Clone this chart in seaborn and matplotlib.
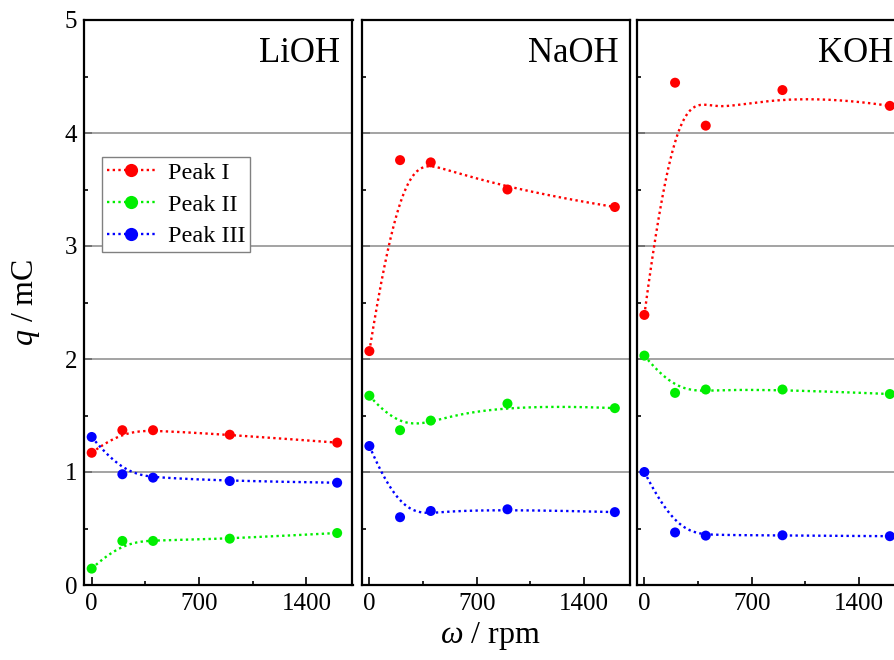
import numpy as np
import pandas as pd
import matplotlib
matplotlib.use("Agg")
import matplotlib.pyplot as plt
from matplotlib.lines import Line2D
from matplotlib.ticker import MultipleLocator
import seaborn as sns

# ---------------- data ----------------
rpm = [0, 200, 400, 900, 1600]
electrolytes = ["LiOH", "NaOH", "KOH"]
series_names = ["Peak I", "Peak II", "Peak III"]

lioh_peak1 = [1.17, 1.37, 1.37, 1.33, 1.26]
lioh_peak2 = [0.145, 0.39, 0.39, 0.41, 0.46]
lioh_peak3 = [1.31, 0.98, 0.95, 0.92, 0.905]

naoh_peak1 = [2.07, 3.76, 3.74, 3.50, 3.345]
naoh_peak2 = [1.675, 1.37, 1.455, 1.605, 1.565]
naoh_peak3 = [1.23, 0.60, 0.655, 0.67, 0.645]

koh_peak1 = [2.39, 4.445, 4.065, 4.38, 4.24]
koh_peak2 = [2.03, 1.70, 1.73, 1.73, 1.69]
koh_peak3 = [1.00, 0.465, 0.437, 0.44, 0.432]

x_ticks = [0, 700, 1400]
y_ticks = [0, 1, 2, 3, 4, 5]
colors = ["#ff0000", "#00ee00", "#0000ff"]

panels = {
    "LiOH": [lioh_peak1, lioh_peak2, lioh_peak3],
    "NaOH": [naoh_peak1, naoh_peak2, naoh_peak3],
    "KOH": [koh_peak1, koh_peak2, koh_peak3],
}


def bspline(xs, ys, n=300, k=3):
    """Clamped uniform B-spline using the data points as control points."""
    P = np.column_stack([xs, ys]).astype(float)
    m = len(P)
    nseg = m - k
    knots = np.concatenate([np.zeros(k + 1), np.arange(1, nseg), np.full(k + 1, nseg)])
    u = np.linspace(0, nseg, n)
    u[-1] = nseg - 1e-9

    def N(i, p, uu):
        if p == 0:
            return ((knots[i] <= uu) & (uu < knots[i + 1])).astype(float)
        a = 0.0
        d1 = knots[i + p] - knots[i]
        if d1 > 0:
            a = (uu - knots[i]) / d1 * N(i, p - 1, uu)
        b = 0.0
        d2 = knots[i + p + 1] - knots[i + 1]
        if d2 > 0:
            b = (knots[i + p + 1] - uu) / d2 * N(i + 1, p - 1, uu)
        return a + b

    B = np.column_stack([N(i, k, u) for i in range(m)])
    C = B @ P
    return C[:, 0], C[:, 1]


sns.set_style("ticks")
plt.rcParams["font.family"] = ["Liberation Serif", "DejaVu Serif"]
plt.rcParams["mathtext.fontset"] = "custom"
plt.rcParams["mathtext.rm"] = "Liberation Serif"
plt.rcParams["mathtext.it"] = "Liberation Serif:italic"
for key in ["text.color", "axes.labelcolor", "xtick.color", "ytick.color",
            "axes.edgecolor"]:
    plt.rcParams[key] = "black"

W, H = 894, 660
fig = plt.figure(figsize=(W / 100, H / 100), dpi=100)

lefts = [84, 361.7, 636.7]
pw = 268.5
bottom_px, top_px = 585, 20

dot_style = (0, (1.0, 1.4))
axes = []
for j, (name, left) in enumerate(zip(electrolytes, lefts)):
    ax = fig.add_axes([left / W, (H - bottom_px) / H, pw / W, (bottom_px - top_px) / H])
    axes.append(ax)
    for ys, c in zip(panels[name], colors):
        cx, cy = bspline(rpm, ys)
        sns.lineplot(x=cx, y=cy, ax=ax, color=c, linewidth=1.7,
                     linestyle=dot_style, sort=False, estimator=None, zorder=3)
        sns.scatterplot(x=rpm, y=ys, ax=ax, color=c, s=52, edgecolor="none",
                        linewidth=0, zorder=4)
    ax.set_xlim(-50, 1700)
    ax.set_ylim(0, 5)
    ax.set_xticks(x_ticks)
    ax.xaxis.set_minor_locator(MultipleLocator(350))
    ax.set_yticks(y_ticks)
    ax.yaxis.set_minor_locator(MultipleLocator(0.5))
    for yv in y_ticks[1:-1]:
        ax.axhline(yv, color="#8a8a8a", linewidth=1.1, zorder=1)
    for sp in ax.spines.values():
        sp.set_linewidth(1.6)
        sp.set_color("black")
        sp.set_zorder(5)
    ax.tick_params(axis="both", which="major", direction="in", length=6,
                   width=1.2, labelsize=18, color="black", labelcolor="black")
    ax.tick_params(axis="both", which="minor", direction="in", length=3.2,
                   width=1.2, color="black")
    ax.tick_params(axis="x", which="both", pad=6)
    ax.tick_params(axis="y", which="both", pad=5, right=False)
    ax.tick_params(axis="x", which="both", top=False)
    if j > 0:
        ax.tick_params(axis="y", labelleft=False)
    ax.set_xlabel("")
    ax.set_ylabel("")
    ax.text(1 - 12 / pw, (bottom_px - 62) / (bottom_px - top_px), name,
            transform=ax.transAxes, ha="right", va="baseline", fontsize=25,
            color="black")

axes[0].set_ylabel(r"$q$ / mC", fontsize=23, labelpad=16)
axes[1].set_xlabel(r"$\omega$ / rpm", fontsize=23, labelpad=3)
axes[1].xaxis.set_label_coords(0.48, -0.062)

handles = [Line2D([], [], color=c, linestyle=dot_style, linewidth=1.7,
                  marker="o", markersize=9.5, markeredgewidth=0)
           for c in colors]
leg = axes[0].legend(handles, series_names, loc="upper left",
                     bbox_to_anchor=((102 - 84) / pw, (585 - 157) / 565),
                     borderaxespad=0, fontsize=17.5, frameon=True, fancybox=False,
                     framealpha=1, edgecolor="#808080", handlelength=2.0,
                     handletextpad=0.5, labelspacing=0.4, borderpad=0.2)
leg.get_frame().set_linewidth(1.0)
for t in leg.get_texts():
    t.set_color("black")
leg.set_zorder(6)

fig.savefig("out.png", dpi=100)
